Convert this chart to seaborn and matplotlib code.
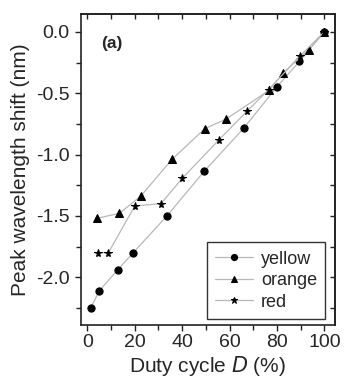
import pandas as pd
import seaborn as sns
from matplotlib import pyplot as plt
from matplotlib.ticker import MultipleLocator

sns.set_style("ticks")
plt.rcParams["font.family"] = ["Liberation Sans", "DejaVu Sans"]

yellow_x = [1.4, 5.1, 12.8, 19.4, 33.6, 49.4, 66.0, 79.9, 89.5, 100]
yellow_y = [-2.25, -2.11, -1.94, -1.80, -1.50, -1.135, -0.785, -0.45, -0.24, 0.0]

orange_x = [4.0, 13.5, 22.5, 35.7, 49.5, 58.6, 76.8, 82.7, 93.4, 100]
orange_y = [-1.52, -1.48, -1.34, -1.04, -0.79, -0.71, -0.475, -0.334, -0.144, 0.0]

red_x = [4.4, 8.9, 20.0, 31.1, 40.0, 55.4, 67.4, 76.5, 89.6, 100]
red_y = [-1.80, -1.80, -1.42, -1.40, -1.195, -0.883, -0.646, -0.47, -0.198, 0.0]

series = [
    ("yellow", yellow_x, yellow_y, "o", 5.2),
    ("orange", orange_x, orange_y, "^", 5.6),
    ("red", red_x, red_y, "*", 5.8),
]

fig = plt.figure(figsize=(3.5, 3.81), dpi=100)
ax = fig.add_axes([0.2306, 0.147, 0.7266, 0.816])

for name, xs, ys, mk, ms in series:
    df = pd.DataFrame({"duty": xs, "shift": ys})
    sns.lineplot(ax=ax, data=df, x="duty", y="shift", sort=False, estimator=None,
                 color="#b8b8b8", linewidth=0.9, marker=mk, markersize=ms,
                 markerfacecolor="black", markeredgecolor="black", label=name)

ax.set_xlim(-2.8, 104.5)
ax.set_ylim(-2.39, 0.145)
ax.xaxis.set_major_locator(MultipleLocator(20))
ax.xaxis.set_minor_locator(MultipleLocator(10))
ax.yaxis.set_major_locator(MultipleLocator(0.5))
ax.yaxis.set_minor_locator(MultipleLocator(0.25))
ax.yaxis.set_major_formatter(lambda v, p: f"{v:.1f}".replace("-0.0", "0.0"))

ax.tick_params(which="both", direction="out", labelsize=14, color="#222222", width=1.0)
ax.tick_params(which="major", length=4.5)
ax.tick_params(which="minor", length=3.5)
ax.tick_params(axis="x", pad=2)

top = ax.secondary_xaxis("top")
top.xaxis.set_major_locator(MultipleLocator(20))
top.xaxis.set_minor_locator(MultipleLocator(10))
top.tick_params(which="both", direction="in", labeltop=False, length=3.5, width=1.0, color="#222222")
right = ax.secondary_yaxis("right")
right.yaxis.set_major_locator(MultipleLocator(0.5))
right.yaxis.set_minor_locator(MultipleLocator(0.25))
right.tick_params(which="both", direction="in", labelright=False, length=3.5, width=1.0, color="#222222")
for sec in (top, right):
    for s in sec.spines.values():
        s.set_linewidth(1.2)
        s.set_color("#222222")

for s in ax.spines.values():
    s.set_visible(True)
    s.set_linewidth(1.2)
    s.set_color("#222222")

ax.set_xlabel("Duty cycle $\\it{D}$ (%)", fontsize=15, labelpad=2)
ax.set_ylabel("Peak wavelength shift (nm)", fontsize=15, labelpad=4)

ax.text(0.122, 0.905, "(a)", transform=ax.transAxes, fontsize=12.5, fontweight="bold",
        ha="center", va="center")

leg = ax.legend(loc="lower right", bbox_to_anchor=(0.962, 0.02), fontsize=13,
                frameon=True, fancybox=False, framealpha=1, edgecolor="#333333",
                handlelength=2.1, handletextpad=0.45, labelspacing=0.25,
                borderpad=0.45, borderaxespad=0, markerscale=0.85)
leg.get_frame().set_linewidth(1.0)

plt.savefig("out.png", dpi=100)
